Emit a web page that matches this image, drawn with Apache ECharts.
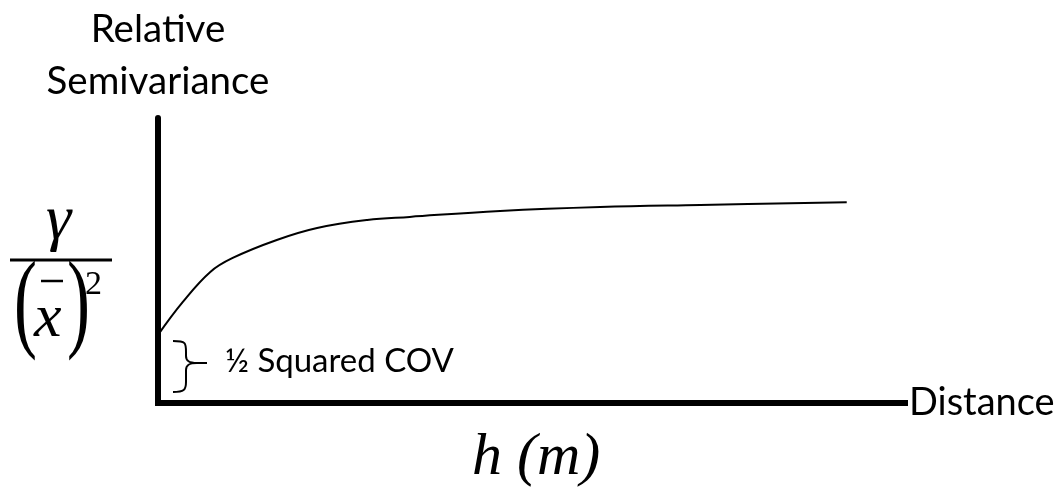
<!DOCTYPE html>
<html>
<head>
<meta charset="utf-8">
<script src="https://cdn.jsdelivr.net/npm/echarts@6/dist/echarts.min.js"></script>
<style>
  html, body { margin: 0; padding: 0; background: #fff; }
  #main { width: 1063px; height: 487px; }
</style>
</head>
<body>
<div id="main"></div>
<script>
// 距离 (0-100, 相对刻度) 与相对半方差
var distance = [0, 3.3, 7.0, 10.0, 15.9, 21.3, 28.0, 33.7, 45.8, 59.2, 72.6, 92.2];
var semivariance = [23.9, 35.4, 46.0, 50.9, 57.2, 61.4, 64.2, 65.3, 67.4, 68.8, 69.5, 70.4];

var xAxisName = 'Distance';
var yAxisName = 'Relative\nSemivariance';
var nuggetLabel = '½ Squared COV';
var hLabel = 'h (m)';

var sansFont = 'Lato';

var myChart = echarts.init(document.getElementById('main'));

var points = distance.map(function (d, i) {
    return [d, semivariance[i]];
});

// 括号的一段
function brace(x1, y1, cpx1, cpy1, cpx2, cpy2, x2, y2) {
    return {
        type: 'bezierCurve',
        shape: { x1: x1, y1: y1, cpx1: cpx1, cpy1: cpy1, cpx2: cpx2, cpy2: cpy2, x2: x2, y2: y2 },
        style: { stroke: '#000', lineWidth: 2, fill: null }
    };
}
function seg(x1, y1, x2, y2, w) {
    return { type: 'line', shape: { x1: x1, y1: y1, x2: x2, y2: y2 }, style: { stroke: '#000', lineWidth: w || 2 } };
}
function paren(ch, x) {
    return {
        type: 'text', x: x, y: 308, scaleX: 0.75, scaleY: 1.2,
        style: { text: ch, font: '92px "Liberation Serif"', fill: '#000', align: 'left', verticalAlign: 'middle' }
    };
}

var option = {
    backgroundColor: '#fff',
    animation: false,
    grid: { left: 158, right: 158, top: 118, bottom: 84 },
    xAxis: {
        type: 'value',
        min: 0,
        max: 100,
        name: xAxisName,
        nameLocation: 'end',
        nameGap: 4,
        nameTextStyle: { fontFamily: sansFont, fontSize: 38, color: '#000', verticalAlign: 'middle' },
        axisLine: { lineStyle: { color: '#000', width: 6, cap: 'square' } },
        axisTick: { show: false },
        axisLabel: { show: false },
        splitLine: { show: false }
    },
    yAxis: {
        type: 'value',
        min: 0,
        max: 100,
        name: yAxisName,
        nameLocation: 'end',
        nameGap: 10,
        nameTextStyle: {
            fontFamily: sansFont, fontSize: 38.5, color: '#000',
            align: 'center', verticalAlign: 'bottom', lineHeight: 52
        },
        axisLine: { lineStyle: { color: '#000', width: 6 } },
        axisTick: { show: false },
        axisLabel: { show: false },
        splitLine: { show: false }
    },
    series: [{
        type: 'line',
        data: points,
        smooth: 0.4,
        showSymbol: false,
        lineStyle: { color: '#000', width: 2 }
    }],
    graphic: [
        // γ / (x̄)²
        { type: 'text', left: 46, top: 189, style: { text: 'γ', font: 'italic 64px "Liberation Serif"', fill: '#000' } },
        seg(10, 260, 112, 260, 3),
        paren('(', 14),
        paren(')', 67),
        { type: 'text', left: 34, top: 289, style: { text: 'x', font: 'italic 62px "Liberation Serif"', fill: '#000' } },
        seg(41, 281, 63, 281, 2.5),
        { type: 'text', left: 85, top: 268, style: { text: '2', font: '34px "Liberation Serif"', fill: '#000' } },
        // 括号
        brace(173, 341, 186, 341, 186, 343, 186, 352),
        seg(186, 352, 186, 356),
        brace(186, 356, 186, 361, 189, 363, 197, 363),
        brace(197, 363, 189, 363, 186, 365, 186, 370),
        seg(186, 370, 186, 382),
        brace(186, 382, 186, 390, 184, 392, 173, 392),
        seg(197, 363, 207, 363),
        { type: 'text', left: 225, top: 345, style: { text: nuggetLabel, font: '33px Lato', fill: '#000' } },
        { type: 'text', left: 472, top: 428, style: { text: hLabel, font: 'italic 60px "Liberation Serif"', fill: '#000' } }
    ]
};

myChart.setOption(option);
</script>
</body>
</html>
